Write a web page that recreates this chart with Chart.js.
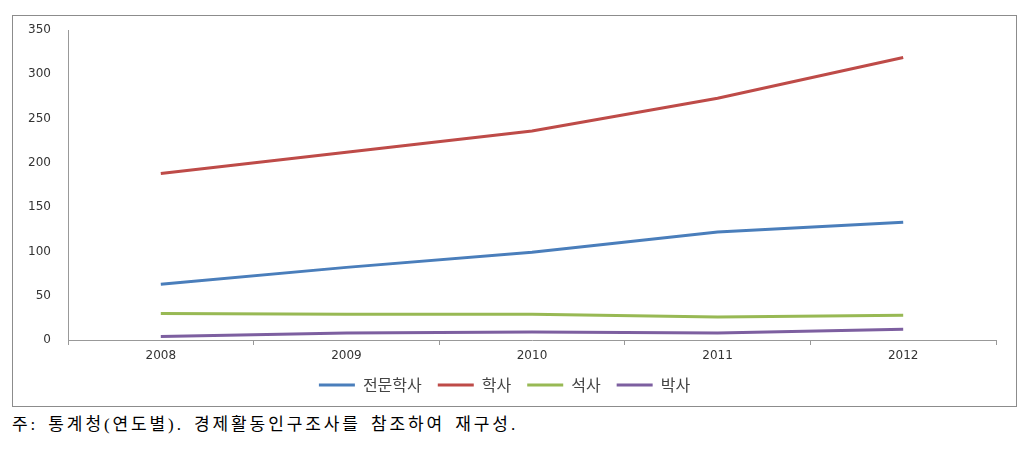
<!DOCTYPE html>
<html>
<head>
<meta charset="utf-8">
<script src="https://cdn.jsdelivr.net/npm/chart.js@4"></script>
<style>
  body { margin: 0; background: #fff; width: 1031px; height: 452px; position: relative; }
  #box { position: absolute; left: 12px; top: 15px; width: 1003px; height: 390px; border: 1px solid #8c8c8c; }
  #chart { position: absolute; left: 0; top: 0; }
  #note { position: absolute; left: 12px; top: 410px; font-family: "Liberation Serif", "Noto Sans CJK KR", serif; font-size: 17px; letter-spacing: 2.9px; word-spacing: 3px; color: #000; white-space: nowrap; }
</style>
</head>
<body>
<div id="box"><canvas id="chart" width="1003" height="390"></canvas></div>
<div id="note">주: 통계청(연도별). 경제활동인구조사를 참조하여 재구성.</div>
<script>
// 연도
const years = ['2008', '2009', '2010', '2011', '2012'];
// 학위별 값
const junmunhaksa = [63, 82, 99, 122, 133];
const haksa = [188, 212, 236, 273, 319];
const seoksa = [30, 29, 29, 26, 28];
const baksa = [4, 8, 9, 8, 12];
const seriesNames = ['전문학사', '학사', '석사', '박사'];
const seriesColors = ['#4a7ebb', '#be4b48', '#98b954', '#7d5fa0'];
const seriesValues = [junmunhaksa, haksa, seoksa, baksa];

document.addEventListener('DOMContentLoaded', function() {
    const datasets = seriesValues.map((vals, i) => ({
        label: seriesNames[i],
        data: vals,
        borderColor: seriesColors[i],
        backgroundColor: seriesColors[i],
        borderWidth: 3,
        pointRadius: 0,
        tension: 0
    }));

    const ctx = document.getElementById('chart').getContext('2d');
    new Chart(ctx, {
        type: 'line',
        data: { labels: years, datasets: datasets },
        options: {
            responsive: false,
            animation: false,
            layout: { padding: { top: 14, right: 20, left: 0, bottom: 3 } },
            plugins: {
                tooltip: { enabled: false },
                legend: {
                    position: 'bottom',
                    labels: {
                        boxWidth: 36,
                        boxHeight: 3,
                        padding: 16,
                        color: '#444',
                        font: { family: '"Noto Sans CJK KR", sans-serif', size: 16 },
                        // 범례 선은 테두리 없이 얇게
                        generateLabels: function(chart) {
                            const items = Chart.defaults.plugins.legend.labels.generateLabels(chart);
                            items.forEach(it => { it.lineWidth = 0; });
                            return items;
                        }
                    }
                }
            },
            scales: {
                x: {
                    offset: true,
                    grid: { offset: true, drawOnChartArea: false, drawTicks: true, tickLength: 5, color: '#999' },
                    border: { color: '#999' },
                    ticks: { color: '#333', padding: 4, font: { family: '"DejaVu Sans", sans-serif', size: 12 } },
                    afterFit: function(scale) { scale.height = 21; }
                },
                y: {
                    min: 0,
                    max: 350,
                    ticks: { stepSize: 50, color: '#333', padding: 0, font: { family: '"DejaVu Sans", sans-serif', size: 12 } },
                    // 눈금선은 투명하게 두고 라벨 간격만 만든다
                    grid: { drawOnChartArea: false, drawTicks: true, tickLength: 17, color: 'rgba(0,0,0,0)' },
                    border: { color: '#999' },
                    afterFit: function(scale) { scale.width = 55; }
                }
            }
        }
    });
});
</script>
</body>
</html>
